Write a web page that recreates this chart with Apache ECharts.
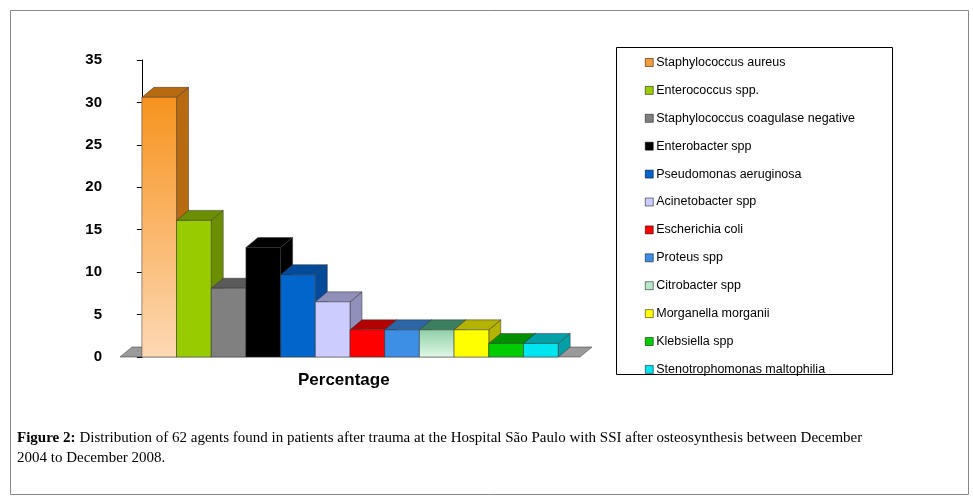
<!DOCTYPE html><html><head><meta charset="utf-8"><script src="https://cdn.jsdelivr.net/npm/echarts@6/dist/echarts.min.js"></script>
<style>html,body{margin:0;padding:0;background:#fff}#c{width:973px;height:499px}</style></head><body><div id="c"></div><script>
const names=["Staphylococcus aureus","Enterococcus spp.","Staphylococcus coagulase negative","Enterobacter spp","Pseudomonas aeruginosa","Acinetobacter spp","Escherichia coli","Proteus spp","Citrobacter spp","Morganella morganii","Klebsiella spp","Stenotrophomonas maltophilia"];
const values=[30.6,16.1,8.1,12.9,9.7,6.5,3.2,3.2,3.2,3.2,1.6,1.6];
const colors=["#f39a3a","#99cc00","#808080","#000000","#0066cc","#ccccff","#ff0000","#3d8fe6","#b7e8c8","#ffff00","#00cc00","#00e5f0"];
const tops=["#b86a10","#6b8f00","#5a5a5a","#000000","#004a99","#9090bb","#b30000","#2d66a6","#3a8060","#b3b300","#008f00","#00a0a8"];
const yTicks=[0,5,10,15,20,25,30,35];
const DX=12,DY=-10;
function render(i){return function(params,api){
  const v=api.value(1);const a=api.coord([i,0]),b=api.coord([i+1,v]);
  const fill=i===0?new echarts.graphic.LinearGradient(0,0,0,1,[{offset:0,color:"#f7931e"},{offset:1,color:"#fdd9b5"}]):(i===8?new echarts.graphic.LinearGradient(0,0,0,1,[{offset:0,color:"#8fd0a8"},{offset:1,color:"#e0f7e6"}]):colors[i]);
  return {type:'group',children:[
    {type:'polygon',shape:{points:[[b[0],b[1]],[b[0]+DX,b[1]+DY],[b[0]+DX,a[1]+DY],[b[0],a[1]]]},style:{fill:tops[i],stroke:'#333',lineWidth:0.5}},
    {type:'polygon',shape:{points:[[a[0],b[1]],[a[0]+DX,b[1]+DY],[b[0]+DX,b[1]+DY],[b[0],b[1]]]},style:{fill:tops[i],stroke:'#333',lineWidth:0.5}},
    {type:'rect',shape:{x:a[0],y:b[1],width:b[0]-a[0],height:a[1]-b[1]},style:{fill:fill,stroke:'#333',lineWidth:0.5}}
  ]};};}
const series=names.map((n,i)=>({type:'custom',name:n,data:[[i,values[i]]],renderItem:render(i),itemStyle:{color:colors[i]},z:10+i}));
series.unshift({type:'custom',name:'floor',data:[[0,0]],silent:true,z:1,renderItem:function(p,api){
  const a=api.coord([-0.63,0]),b=api.coord([12.63,0]);
  return {type:'polygon',shape:{points:[[a[0],a[1]],[a[0]+DX,a[1]+DY],[b[0]+DX,b[1]+DY],[b[0],b[1]]]},style:{fill:'#9a9a9a',stroke:'#333',lineWidth:0.5}};}});
const chart=echarts.init(document.getElementById('c'));
chart.setOption({animation:false,
 grid:{left:120,top:60,width:460,height:297},
 xAxis:{type:'value',min:-0.63,max:12.63,show:false},
 yAxis:{type:'value',min:0,max:35,interval:5,axisLine:{show:true,lineStyle:{color:'#000'}},axisTick:{show:true,length:5,lineStyle:{color:'#000'}},splitLine:{show:false},
   axisLabel:{margin:18,color:'#000',fontWeight:'bold',fontFamily:'Liberation Sans',fontSize:15,formatter:v=>yTicks.includes(v)?String(v):''}},
 legend:{data:names,orient:'vertical',left:640,top:51,itemWidth:8,itemHeight:8,itemGap:14.9,icon:'rect',
   textStyle:{fontFamily:'Liberation Sans',fontSize:12.5,color:'#000',padding:[0,0,0,-2]},itemStyle:{borderColor:'#000',borderWidth:0.5}},
 series:series,
 graphic:[
  {type:'rect',left:8,top:8,shape:{width:958,height:484},style:{fill:'none',stroke:'#888',lineWidth:1},silent:true},
  {type:'rect',left:614,top:45,shape:{width:276,height:327},style:{fill:'none',stroke:'#000',lineWidth:1},silent:true},
  {type:'text',left:298,top:372,style:{text:'Percentage',font:'bold 17px Liberation Sans',fill:'#000'}},
  {type:'text',left:17,top:428,style:{width:948,overflow:'break',lineHeight:20,
    text:'{b|Figure 2:} Distribution of 62 agents found in patients after trauma at the Hospital São Paulo with SSI after osteosynthesis between December 2004 to December 2008.',
    font:'15px Liberation Serif',fill:'#000',rich:{b:{fontWeight:'bold',fontFamily:'Liberation Serif',fontSize:15}}}}
 ]});
</script></body></html>
